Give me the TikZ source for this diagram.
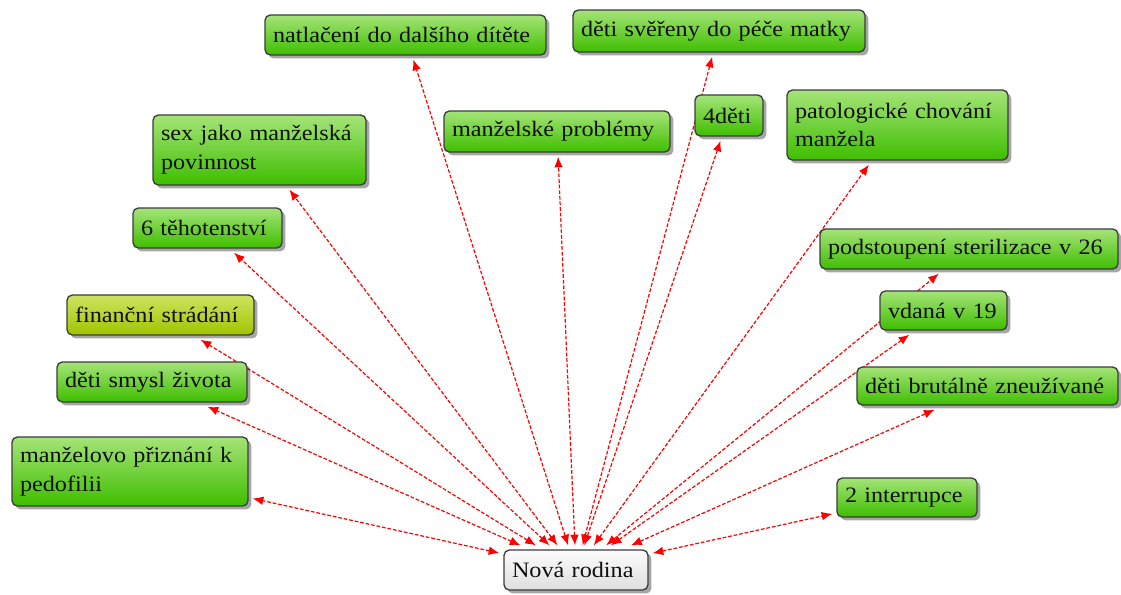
\documentclass[tikz,border=0pt]{standalone}
\usepackage{fontspec}
\setmainfont{Liberation Serif}[FakeStretch=1.1]
\usetikzlibrary{arrows.meta,shadows,backgrounds}

\definecolor{greentop}{RGB}{165,228,120}
\definecolor{greenbot}{RGB}{62,190,0}
\definecolor{olivetop}{RGB}{206,228,96}
\definecolor{olivebot}{RGB}{160,196,0}
\definecolor{greytop}{RGB}{252,252,252}
\definecolor{greybot}{RGB}{222,222,222}
\definecolor{boxline}{RGB}{60,60,60}
\definecolor{linkred}{RGB}{255,0,0}
\definecolor{inktext}{RGB}{15,15,15}

\tikzset{
  card/.style={rectangle, rounded corners=4pt, draw=boxline, line width=1pt,
    inner xsep=6pt, inner ysep=3pt, outer sep=3.5pt, align=left,
    text=inktext, font=\fontsize{16.5pt}{21.5pt}\selectfont,
    drop shadow={shadow xshift=2.6pt, shadow yshift=-2.6pt, fill=black, opacity=0.35}},
  greencard/.style={card, top color=greentop, bottom color=greenbot},
  olivecard/.style={card, top color=olivetop, bottom color=olivebot},
  greycard/.style={card, top color=greytop, bottom color=greybot},
  link/.style={draw=linkred, line width=0.9pt, dash pattern=on 2.8pt off 1.4pt,
    {Latex[length=8pt,width=6.5pt]}-{Latex[length=8pt,width=6.5pt]}}
}

\begin{document}
\begin{tikzpicture}[x=0.75pt,y=-0.75pt]
\useasboundingbox (0,0) rectangle (1121,594);

% central node
\node[greycard, text width=96pt, minimum height=30pt] (nova) at (576,570) {\mbox{Nová rodina}};

% surrounding topics
\node[greencard, text width=198.75pt, minimum height=30pt] (natl) at (405.5,35) {\mbox{natlačení do dalšího dítěte}};
\node[greencard, text width=207pt, minimum height=31.5pt] (sver) at (719,31) {\mbox{děti svěřeny do péče matky}};
\node[greencard, text width=147.75pt, minimum height=52.5pt] (sex) at (259.5,150) {sex jako manželská\\povinnost};
\node[greencard, text width=157.5pt, minimum height=30.75pt] (manz) at (557,131.5) {\mbox{manželské problémy}};
\node[greencard, text width=39pt, minimum height=30.75pt] (ctyri) at (729,115.5) {\mbox{4děti}};
\node[greencard, text width=153.75pt, minimum height=52.5pt] (pato) at (897.5,125) {patologické chování\\manžela};
\node[greencard, text width=99.75pt, minimum height=30pt] (teh) at (207.5,228) {\mbox{6 těhotenství}};
\node[greencard, text width=211.5pt, minimum height=30pt] (ster) at (969,249) {\mbox{podstoupení sterilizace v 26}};
\node[olivecard, text width=128.25pt, minimum height=30pt] (fin) at (160.5,315) {\mbox{finanční strádání}};
\node[greencard, text width=83.25pt, minimum height=29.25pt] (vdana) at (943.5,310.5) {\mbox{vdaná v 19}};
\node[greencard, text width=130.5pt, minimum height=30pt] (smysl) at (152,382) {\mbox{děti smysl života}};
\node[greencard, text width=183.75pt, minimum height=28.5pt] (brut) at (987.5,386) {\mbox{děti brutálně zneužívané}};
\node[greencard, text width=165pt, minimum height=51.75pt] (pedof) at (130,471.5) {manželovo přiznání k\\pedofilii};
\node[greencard, text width=93pt, minimum height=29.25pt] (inter) at (907,497.5) {\mbox{2 interrupce}};

% connectors behind the cards
\begin{scope}[on background layer]
  \foreach \t in {natl,sver,sex,manz,ctyri,pato,teh,ster,fin,vdana,smysl,brut,pedof,inter}
    \draw[link] (nova) -- (\t);
\end{scope}
\end{tikzpicture}
\end{document}
